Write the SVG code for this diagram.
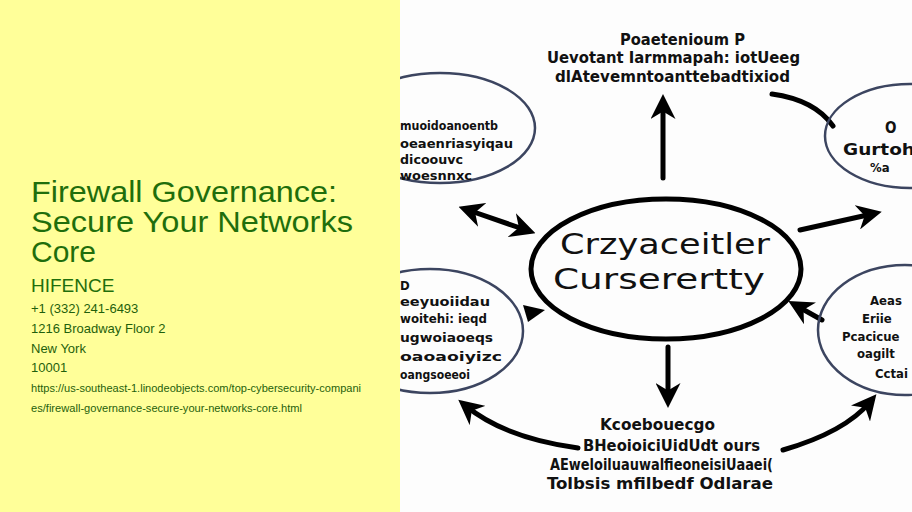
<svg xmlns="http://www.w3.org/2000/svg" width="912" height="512" viewBox="0 0 912 512">
<defs>
<style>
.title{font-family:"Liberation Sans",Arial,sans-serif;font-size:30px;fill:#1f6e0c}
.brand{font-family:"Liberation Sans",Arial,sans-serif;font-size:19px;fill:#1f6e0c}
.info{font-family:"Liberation Sans",Arial,sans-serif;font-size:13px;fill:#1f5f0c}
.url{font-family:"Liberation Sans",Arial,sans-serif;font-size:11px;fill:#1f5f0c}
.g{font-family:"DejaVu Sans Condensed","DejaVu Sans",sans-serif;font-weight:bold;font-size:15px;fill:#111}
.s{font-size:13px}
.big{font-family:"DejaVu Sans","Liberation Sans",sans-serif;font-size:29px;fill:#111}
.side{fill:none;stroke:#3c4560;stroke-width:2.5}
.core{fill:none;stroke:#000;stroke-width:5}
.conn{fill:none;stroke:#000;stroke-width:5;stroke-linecap:round}
</style>
<marker id="ah" viewBox="0 0 10 10" refX="6" refY="5" markerWidth="5" markerHeight="5" orient="auto-start-reverse">
<path d="M0,0 L10,5 L0,10 L3,5 Z" fill="#000"/>
</marker>
</defs>
<rect x="400" y="0" width="512" height="512" fill="#fdfdfd"/>
<g id="connectors">
<line class="conn" x1="663" y1="178" x2="663" y2="104" marker-end="url(#ah)"/>
<line class="conn" x1="668" y1="347" x2="668" y2="398" marker-end="url(#ah)"/>
<line class="conn" x1="468" y1="210" x2="526" y2="230" marker-start="url(#ah)" marker-end="url(#ah)"/>
<line class="conn" x1="800" y1="230" x2="872" y2="214" marker-end="url(#ah)"/>
<line class="conn" x1="822" y1="320" x2="797" y2="306" marker-end="url(#ah)"/>
<path class="conn" d="M772,94 Q815,100 833,126" stroke-width="4"/>
<path class="conn" d="M578,448 Q505,438 466,406" stroke-width="4" marker-end="url(#ah)"/>
<path class="conn" d="M783,450 Q845,432 870,402" stroke-width="4" marker-end="url(#ah)"/>
<polygon points="523,305 545,310 528,322" fill="#000"/>
</g>
<g id="node-center">
<ellipse class="core" cx="666" cy="269" rx="135" ry="70"/>
<text class="big" x="560" y="254" textLength="210" lengthAdjust="spacingAndGlyphs">Crzyaceitler</text>
<text class="big" x="553" y="289" textLength="212" lengthAdjust="spacingAndGlyphs">Curserertty</text>
</g>
<g id="node-top">
<text class="g" x="620" y="45" textLength="125" lengthAdjust="spacingAndGlyphs">Poaetenioum P</text>
<text class="g" x="547" y="63" textLength="253" lengthAdjust="spacingAndGlyphs">Uevotant Iarmmapah: iotUeeg</text>
<text class="g" x="555" y="82" textLength="235" lengthAdjust="spacingAndGlyphs">dlAtevemntoanttebadtixiod</text>
</g>
<g id="node-top-left">
<ellipse class="side" cx="440" cy="128" rx="95" ry="55"/>
<text class="g s" x="400" y="130" textLength="98" lengthAdjust="spacingAndGlyphs">muoidoanoentb</text>
<text class="g s" x="400" y="148" textLength="113" lengthAdjust="spacingAndGlyphs">oeaenriasyiqau</text>
<text class="g s" x="400" y="164" textLength="63" lengthAdjust="spacingAndGlyphs">dicoouvc</text>
<text class="g s" x="400" y="180" textLength="72" lengthAdjust="spacingAndGlyphs">woesnnxc</text>
</g>
<g id="node-top-right">
<ellipse class="side" cx="910" cy="136" rx="85" ry="52"/>
<text class="g" x="885" y="133" font-size="20">O</text>
<text class="g" x="843" y="155" font-size="18" textLength="72" lengthAdjust="spacingAndGlyphs">Gurtoh</text>
<text class="g s" x="870" y="172">%a</text>
</g>
<g id="node-right">
<ellipse class="side" cx="905" cy="330" rx="87" ry="65"/>
<text class="g s" x="870" y="305">Aeas</text>
<text class="g s" x="862" y="323">Eriie</text>
<text class="g s" x="842" y="341">Pcacicue</text>
<text class="g s" x="857" y="358">oagilt</text>
<text class="g s" x="875" y="378">Cctai</text>
</g>
<g id="node-bottom-left">
<ellipse class="side" cx="430" cy="331" rx="93" ry="62"/>
<text class="g s" x="400" y="290" font-size="11">D</text>
<text class="g s" x="400" y="306" textLength="90" lengthAdjust="spacingAndGlyphs">eeyuoiidau</text>
<text class="g s" x="400" y="323" textLength="87" lengthAdjust="spacingAndGlyphs">woitehi: ieqd</text>
<text class="g s" x="400" y="342" textLength="93" lengthAdjust="spacingAndGlyphs">ugwoiaoeqs</text>
<text class="g s" x="400" y="361" textLength="102" lengthAdjust="spacingAndGlyphs">oaoaoiyizc</text>
<text class="g s" x="400" y="379" textLength="70" lengthAdjust="spacingAndGlyphs">oangsoeeoi</text>
</g>
<g id="node-bottom">
<text class="g" x="600" y="430" textLength="115" lengthAdjust="spacingAndGlyphs">Kcoebouecgo</text>
<text class="g" x="583" y="451" textLength="177" lengthAdjust="spacingAndGlyphs">BHeoioiciUidUdt  ours</text>
<text class="g" x="550" y="470" textLength="223" lengthAdjust="spacingAndGlyphs">AEweloiluauwalfieoneisiUaaei(</text>
<text class="g" x="547" y="489" textLength="226" lengthAdjust="spacingAndGlyphs">Tolbsis mfilbedf Odlarae</text>
</g>
<g id="info-panel">
<rect x="0" y="0" width="400" height="512" fill="#ffff99"/>
<text class="title" x="31" y="202" textLength="306" lengthAdjust="spacingAndGlyphs">Firewall Governance:</text>
<text class="title" x="31" y="232" textLength="322" lengthAdjust="spacingAndGlyphs">Secure Your Networks</text>
<text class="title" x="31" y="262">Core</text>
<text class="brand" x="31" y="292">HIFENCE</text>
<text class="info" x="31" y="313">+1 (332) 241-6493</text>
<text class="info" x="31" y="333">1216 Broadway Floor 2</text>
<text class="info" x="31" y="353">New York</text>
<text class="info" x="31" y="372">10001</text>
<text class="url" x="31" y="392" textLength="330" lengthAdjust="spacingAndGlyphs">https://us-southeast-1.linodeobjects.com/top-cybersecurity-compani</text>
<text class="url" x="31" y="412" textLength="271" lengthAdjust="spacingAndGlyphs">es/firewall-governance-secure-your-networks-core.html</text>
</g>
</svg>
